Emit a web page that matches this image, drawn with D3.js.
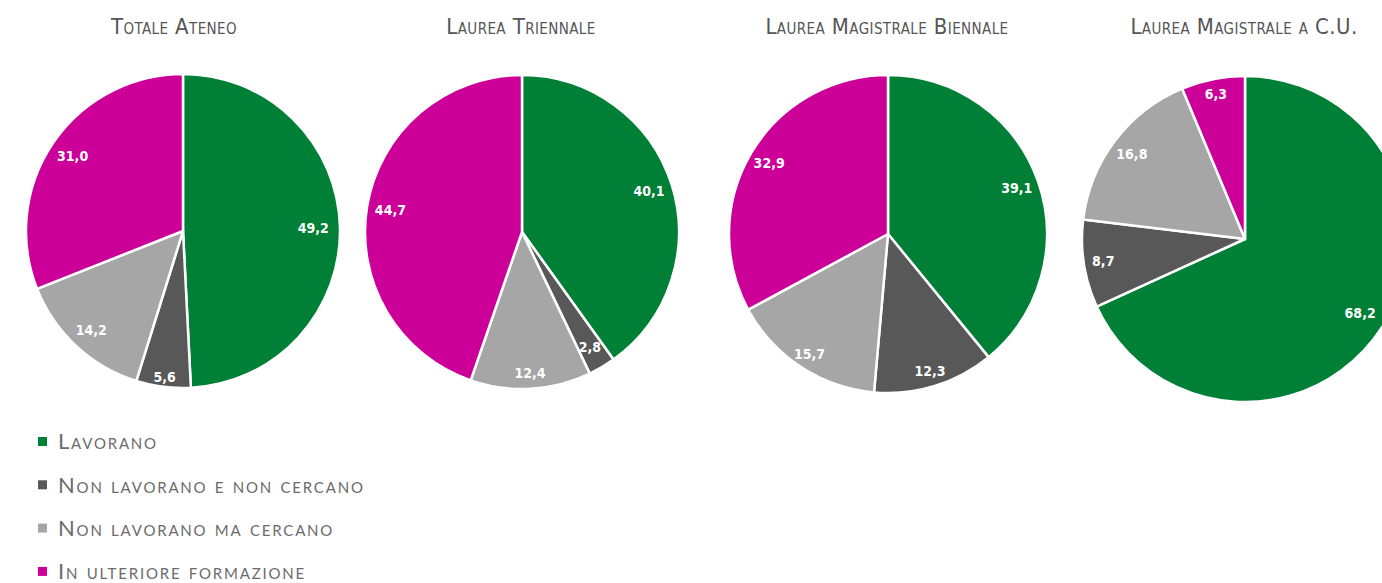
<!DOCTYPE html>
<html lang="it">
<head>
<meta charset="utf-8">
<script src="https://cdn.jsdelivr.net/npm/d3@7"></script>
<style>
  html, body { margin: 0; padding: 0; background: #ffffff; overflow: hidden; }
  svg { display: block; }
</style>
</head>
<body>
<svg id="chart" width="1382" height="583"></svg>
<script>
// Condizione occupazionale dei laureati, valori percentuali
const categories = [
  "Lavorano",
  "Non lavorano e non cercano",
  "Non lavorano ma cercano",
  "In ulteriore formazione"
];
const groups = [
  "Totale Ateneo",
  "Laurea Triennale",
  "Laurea Magistrale Biennale",
  "Laurea Magistrale a C.U."
];
const totaleAteneo       = [49.2, 5.6, 14.2, 31.0];
const laureaTriennale    = [40.1, 2.8, 12.4, 44.7];
const magistraleBiennale = [39.1, 12.3, 15.7, 32.9];
const magistraleCU       = [68.2, 8.7, 16.8, 6.3];
const seriesValues = [totaleAteneo, laureaTriennale, magistraleBiennale, magistraleCU];

// Layout of each pie: centre, radius, title anchor and label distance (fraction of radius)
const pieLayout = [
  { cx: 183,  cy: 231, r: 157, titleX: 174,  labelAt: [0.83, 0.935, 0.86, 0.85] },
  { cx: 522,  cy: 232, r: 157, titleX: 521,  labelAt: [0.85, 0.85, 0.90, 0.85] },
  { cx: 888,  cy: 234, r: 159, titleX: 887,  labelAt: [0.86, 0.90, 0.90, 0.87] },
  { cx: 1245, cy: 239, r: 163, titleX: 1244, labelAt: [0.84, 0.88, 0.87, 0.91] }
];

const color = d3.scaleOrdinal()
  .domain(categories)
  .range(["#007f36", "#585858", "#a6a6a6", "#cc0099"]);

const svg = d3.select("#chart");
const fmt = v => d3.format(".1f")(v).replace(".", ",");

const pie = d3.pie().sort(null).value(d => d.value);

seriesValues.forEach((vals, gi) => {
  const L = pieLayout[gi];
  const rows = vals.map((v, i) => ({ cat: categories[i], value: v, idx: i }));
  const arcs = pie(rows);
  const arc = d3.arc().innerRadius(0).outerRadius(L.r);

  // titolo
  svg.append("text")
    .attr("x", L.titleX)
    .attr("y", 34)
    .attr("text-anchor", "middle")
    .attr("fill", "#555555")
    .style("font-family", "'Liberation Sans Narrow', 'DejaVu Sans Condensed', sans-serif")
    .style("font-size", "22px")
    .style("font-variant", "small-caps")
    .style("letter-spacing", "0.4px")
    .text(groups[gi]);

  const g = svg.append("g").attr("transform", `translate(${L.cx},${L.cy})`);

  g.selectAll("path")
    .data(arcs)
    .join("path")
    .attr("d", arc)
    .attr("fill", d => color(d.data.cat))
    .attr("stroke", "#ffffff")
    .attr("stroke-width", 2.5)
    .attr("stroke-linejoin", "round");

  g.selectAll("text.val")
    .data(arcs)
    .join("text")
    .attr("class", "val")
    .attr("transform", d => {
      const a = (d.startAngle + d.endAngle) / 2;
      const rr = L.r * L.labelAt[d.data.idx];
      return `translate(${Math.sin(a) * rr},${-Math.cos(a) * rr})`;
    })
    .attr("text-anchor", "middle")
    .attr("dy", "0.36em")
    .attr("fill", "#ffffff")
    .style("font-family", "'DejaVu Sans Condensed', 'Liberation Sans Narrow', sans-serif")
    .style("font-weight", "bold")
    .style("font-size", "14px")
    .text(d => fmt(d.data.value));
});

// legenda
const legend = svg.append("g").attr("transform", "translate(38,442)");
const item = legend.selectAll("g")
  .data(categories)
  .join("g")
  .attr("transform", (d, i) => `translate(0,${i * 43.3})`);

item.append("rect")
  .attr("x", 0).attr("y", -5)
  .attr("width", 9).attr("height", 9)
  .attr("fill", d => color(d));

item.append("text")
  .attr("x", 20)
  .attr("y", 0)
  .attr("dy", "0.33em")
  .attr("fill", "#6b6b6b")
  .style("font-family", "Lato, 'Open Sans', sans-serif")
  .style("font-size", "22px")
  .style("font-variant", "small-caps")
  .style("letter-spacing", "1.8px")
  .text(d => d);
</script>
</body>
</html>
